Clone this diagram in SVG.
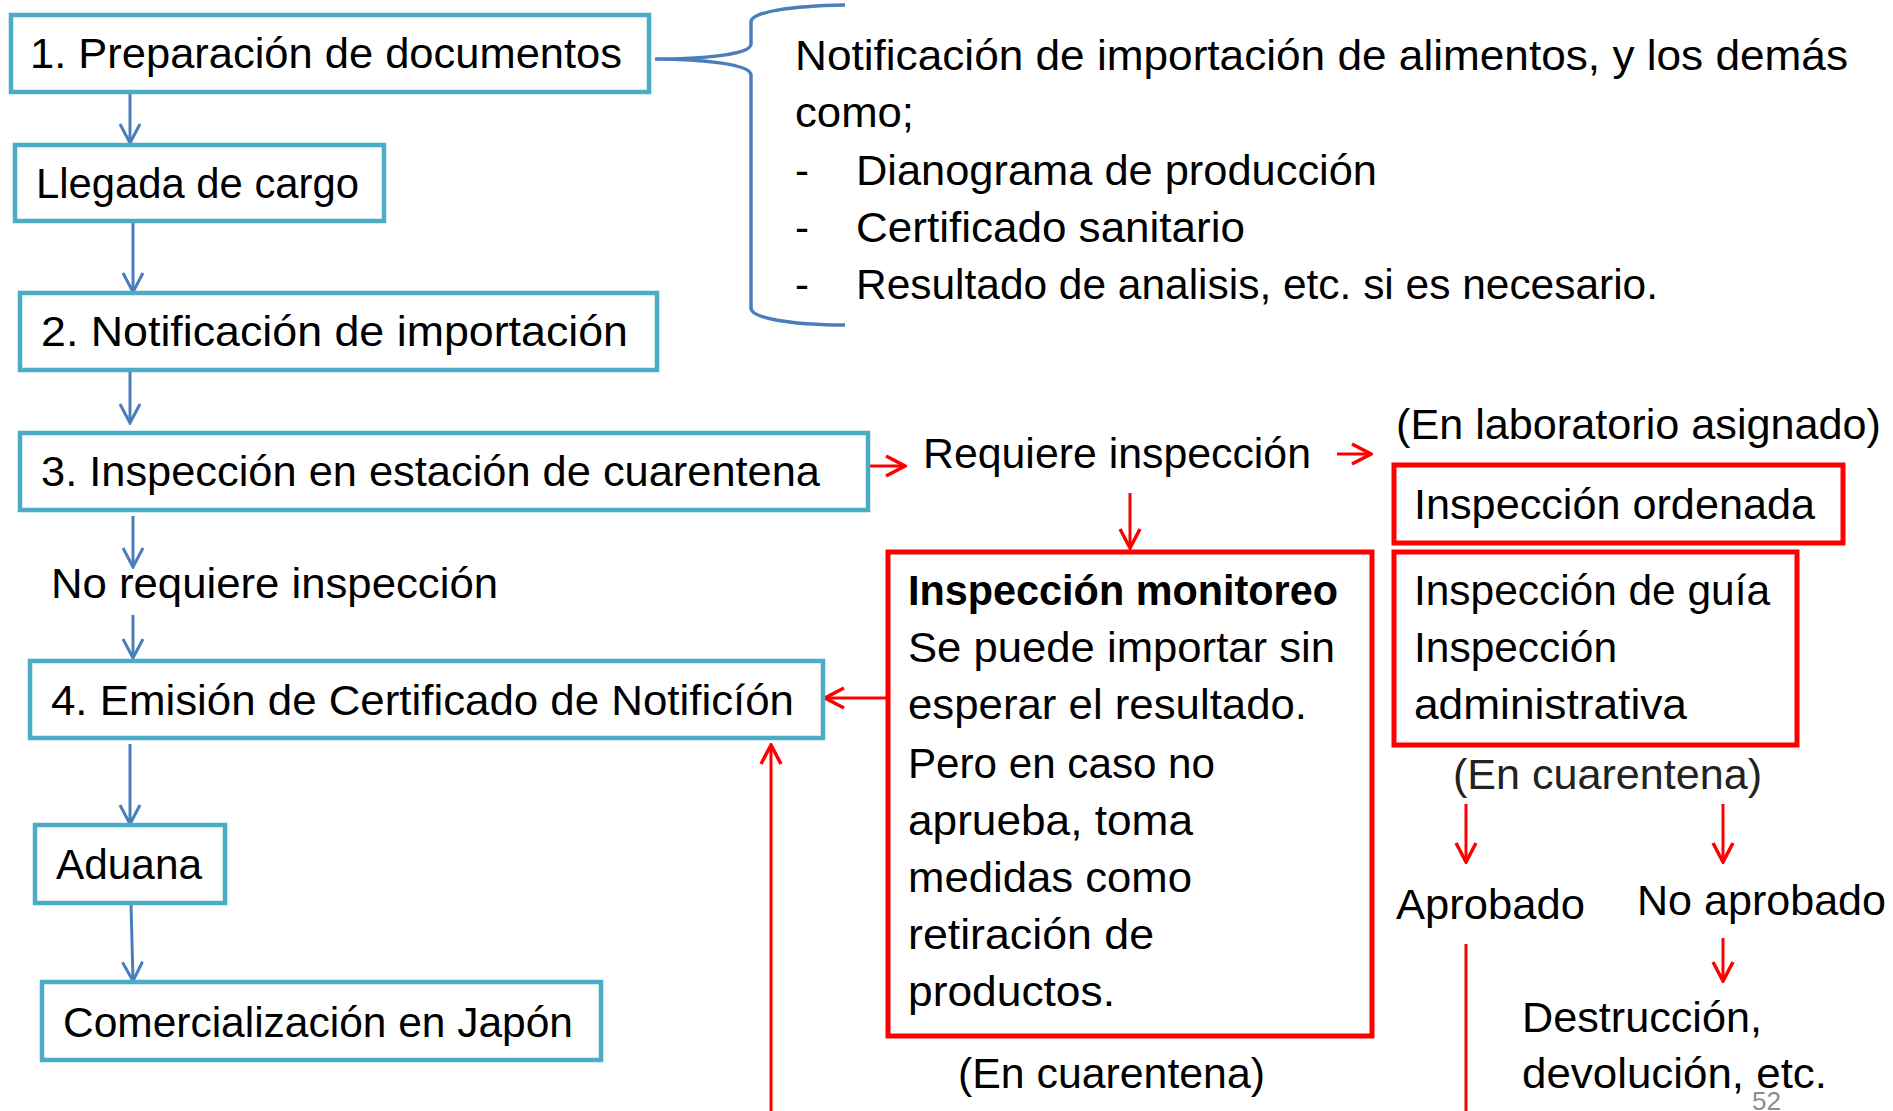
<svg xmlns="http://www.w3.org/2000/svg" width="1893" height="1111" viewBox="0 0 1893 1111">
<style>
text{font-family:"Liberation Sans",Arial,sans-serif;font-size:42px;fill:#000}
.b{font-weight:bold}
.tb{fill:#fff;stroke:#4BACC6;stroke-width:4.5}
.rb{fill:#fff;stroke:#FF0000;stroke-width:5}
.bl{stroke:#4A7EBB;stroke-width:3;fill:none;marker-end:url(#ab)}
.rl{stroke:#FF0000;stroke-width:3;fill:none;marker-end:url(#ar)}
.rn{stroke:#FF0000;stroke-width:3;fill:none}
.pg{font-size:26px;fill:#8C8C8C}
.g{fill:#222}
</style>
<defs>
<marker id="ab" viewBox="-22 -12 24 24" refX="0" refY="0" markerWidth="24" markerHeight="24" markerUnits="userSpaceOnUse" orient="auto"><path d="M-19,-10 L0,0 L-19,10" fill="none" stroke="#4A7EBB" stroke-width="3"/></marker>
<marker id="ar" viewBox="-22 -12 24 24" refX="0" refY="0" markerWidth="24" markerHeight="24" markerUnits="userSpaceOnUse" orient="auto"><path d="M-19,-10 L0,0 L-19,10" fill="none" stroke="#FF0000" stroke-width="3.5"/></marker>
</defs>
<rect width="1893" height="1111" fill="#fff"/>
<g id="connectors">
<line class="bl" x1="130" y1="92" x2="130" y2="143"/>
<line class="bl" x1="133" y1="223" x2="133" y2="292"/>
<line class="bl" x1="130" y1="371" x2="130" y2="423"/>
<line class="bl" x1="133" y1="516" x2="133" y2="567"/>
<line class="bl" x1="133" y1="615" x2="133" y2="658"/>
<line class="bl" x1="130" y1="744" x2="130" y2="824"/>
<line class="bl" x1="131" y1="904" x2="133" y2="981"/>
<path d="M655,59 C700,59 751,55 751,44 L751,22 C751,12 790,6 845,5 M655,59 C700,59 751,64 751,75 L751,308 C751,318 790,325 845,325" fill="none" stroke="#4A7EBB" stroke-width="3.5"/>
<line class="rl" x1="869" y1="466" x2="905" y2="466"/>
<line class="rl" x1="1337" y1="454" x2="1371" y2="454"/>
<line class="rl" x1="1130" y1="493" x2="1130" y2="548"/>
<line class="rl" x1="888" y1="698" x2="825" y2="698"/>
<line class="rl" x1="771" y1="1111" x2="771" y2="745"/>
<line class="rl" x1="1466" y1="804" x2="1466" y2="862"/>
<line class="rl" x1="1723" y1="804" x2="1723" y2="862"/>
<line class="rl" x1="1723" y1="938" x2="1723" y2="981"/>
<line class="rn" x1="1466" y1="944" x2="1466" y2="1111"/>
</g>
<g id="n1"><rect class="tb" x="11" y="15" width="638" height="77"/><text x="30" y="68" textLength="592" lengthAdjust="spacingAndGlyphs">1. Preparación de documentos</text></g>
<g id="n-llegada"><rect class="tb" x="15" y="145" width="369" height="76"/><text x="36" y="198" textLength="323" lengthAdjust="spacingAndGlyphs">Llegada de cargo</text></g>
<g id="n2"><rect class="tb" x="20" y="293" width="637" height="77"/><text x="41" y="346" textLength="587" lengthAdjust="spacingAndGlyphs">2. Notificación de importación</text></g>
<g id="n3"><rect class="tb" x="20" y="433" width="848" height="77"/><text x="41" y="486" textLength="779" lengthAdjust="spacingAndGlyphs">3. Inspección en estación de cuarentena</text></g>
<g id="n-noreq"><text x="51" y="598" textLength="447" lengthAdjust="spacingAndGlyphs">No requiere inspección</text></g>
<g id="n4"><rect class="tb" x="30" y="661" width="793" height="77"/><text x="51" y="715" textLength="743" lengthAdjust="spacingAndGlyphs">4. Emisión de Certificado de Notificíón</text></g>
<g id="n-aduana"><rect class="tb" x="35" y="825" width="190" height="78"/><text x="56" y="879" textLength="146" lengthAdjust="spacingAndGlyphs">Aduana</text></g>
<g id="n-comer"><rect class="tb" x="42" y="982" width="559" height="78"/><text x="63" y="1037" textLength="510" lengthAdjust="spacingAndGlyphs">Comercialización en Japón</text></g>
<g id="n-docs">
<text x="795" y="70" textLength="1053" lengthAdjust="spacingAndGlyphs">Notificación de importación de alimentos, y los demás</text>
<text x="795" y="127" textLength="119" lengthAdjust="spacingAndGlyphs">como;</text>
<text x="795" y="185">-</text><text x="856" y="185" textLength="521" lengthAdjust="spacingAndGlyphs">Dianograma de producción</text>
<text x="795" y="242">-</text><text x="856" y="242" textLength="389" lengthAdjust="spacingAndGlyphs">Certificado sanitario</text>
<text x="795" y="299">-</text><text x="856" y="299" textLength="802" lengthAdjust="spacingAndGlyphs">Resultado de analisis, etc. si es necesario.</text>
</g>
<g id="n-req"><text x="923" y="468" textLength="388" lengthAdjust="spacingAndGlyphs">Requiere inspección</text></g>
<g id="n-lab"><text x="1396" y="439" textLength="485" lengthAdjust="spacingAndGlyphs">(En laboratorio asignado)</text></g>
<g id="n-ordenada"><rect class="rb" x="1394" y="465" width="449" height="78"/><text x="1414" y="519" textLength="401" lengthAdjust="spacingAndGlyphs">Inspección ordenada</text></g>
<g id="n-monitoreo"><rect class="rb" x="888" y="552" width="484" height="484"/>
<text class="b" x="908" y="605" textLength="430" lengthAdjust="spacingAndGlyphs">Inspección monitoreo</text>
<text x="908" y="662" textLength="427" lengthAdjust="spacingAndGlyphs">Se puede importar sin</text>
<text x="908" y="719" textLength="399" lengthAdjust="spacingAndGlyphs">esperar el resultado.</text>
<text x="908" y="778" textLength="307" lengthAdjust="spacingAndGlyphs">Pero en caso no</text>
<text x="908" y="835" textLength="285" lengthAdjust="spacingAndGlyphs">aprueba, toma</text>
<text x="908" y="892" textLength="284" lengthAdjust="spacingAndGlyphs">medidas como</text>
<text x="908" y="949" textLength="246" lengthAdjust="spacingAndGlyphs">retiración de</text>
<text x="908" y="1006" textLength="207" lengthAdjust="spacingAndGlyphs">productos.</text>
</g>
<g id="n-cuar1"><text x="958" y="1088" textLength="307" lengthAdjust="spacingAndGlyphs">(En cuarentena)</text></g>
<g id="n-guia"><rect class="rb" x="1394" y="552" width="403" height="193"/>
<text x="1414" y="605" textLength="356" lengthAdjust="spacingAndGlyphs">Inspección de guía</text>
<text x="1414" y="662" textLength="203" lengthAdjust="spacingAndGlyphs">Inspección</text>
<text x="1414" y="719" textLength="273" lengthAdjust="spacingAndGlyphs">administrativa</text>
</g>
<g id="n-cuar2"><text class="g" x="1453" y="789" textLength="309" lengthAdjust="spacingAndGlyphs">(En cuarentena)</text></g>
<g id="n-aprobado"><text x="1396" y="919" textLength="189" lengthAdjust="spacingAndGlyphs">Aprobado</text></g>
<g id="n-noaprobado"><text x="1637" y="915" textLength="249" lengthAdjust="spacingAndGlyphs">No aprobado</text></g>
<g id="n-destruccion"><text x="1522" y="1032" textLength="240" lengthAdjust="spacingAndGlyphs">Destrucción,</text><text x="1522" y="1088" textLength="305" lengthAdjust="spacingAndGlyphs">devolución, etc.</text></g>
<g id="n-page"><text class="pg" x="1752" y="1110">52</text></g>
</svg>
